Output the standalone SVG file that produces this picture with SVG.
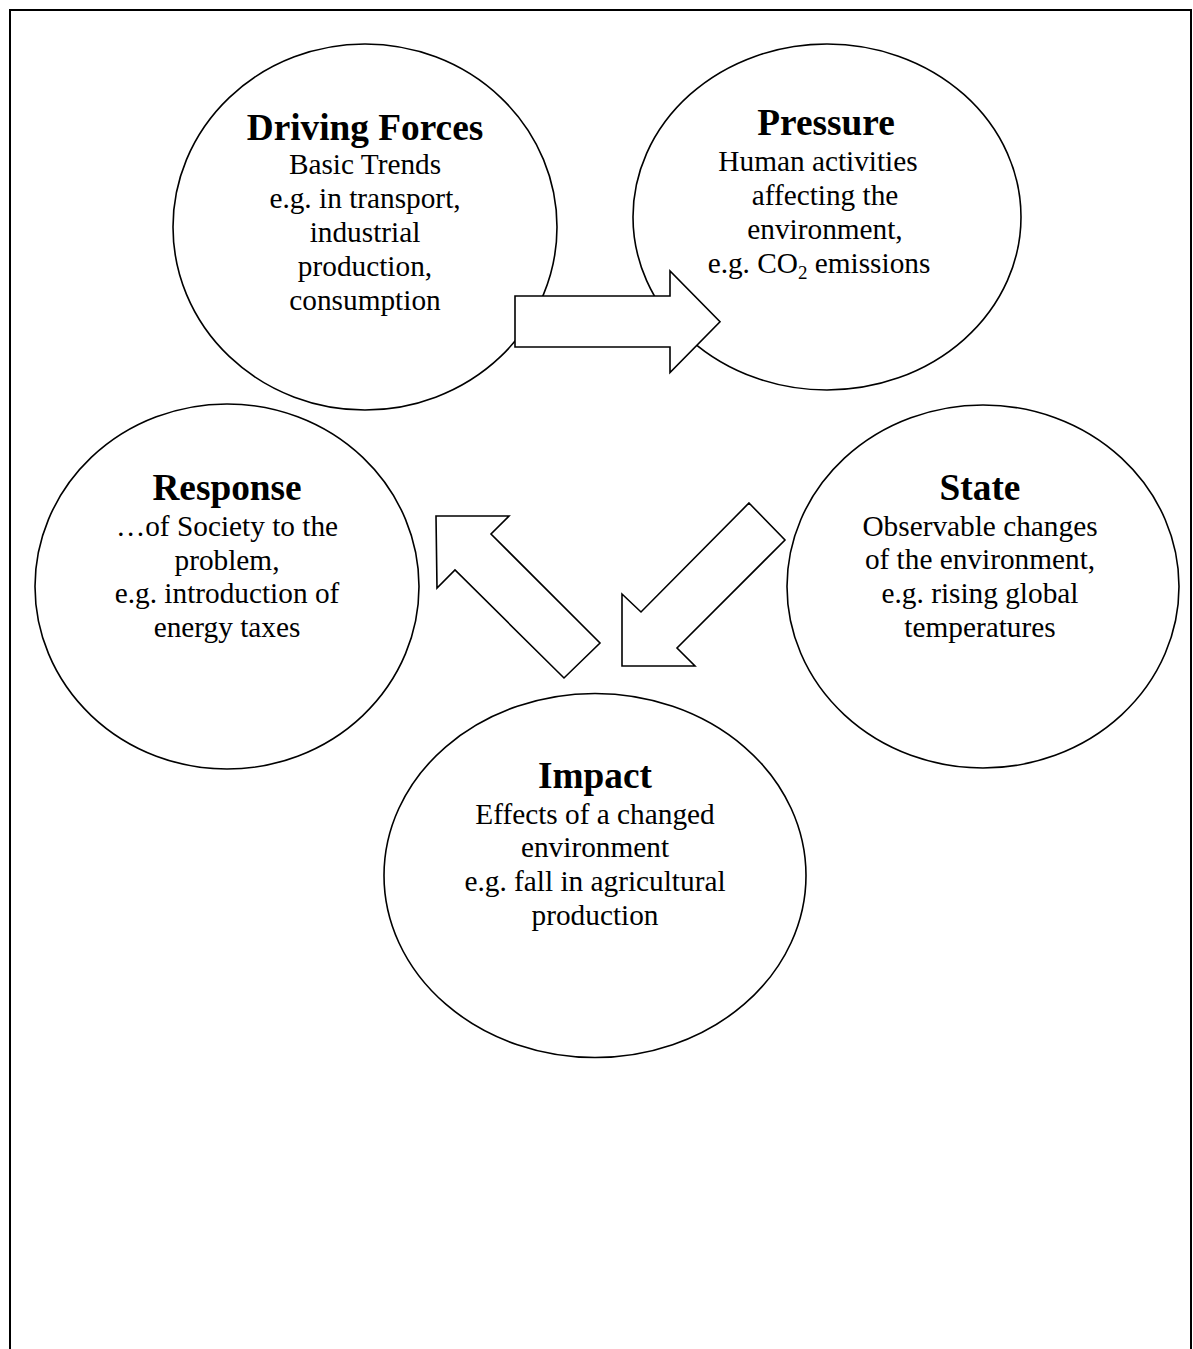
<svg xmlns="http://www.w3.org/2000/svg" width="1193" height="1349" viewBox="0 0 1193 1349">
<style>
.node ellipse{fill:#fff;stroke:#000;stroke-width:1.6}
.arrow{fill:#fff;stroke:#000;stroke-width:1.6;stroke-linejoin:miter}
text{font-family:"Liberation Serif","Times New Roman",serif;fill:#000;text-anchor:middle}
.t{font-size:37.3px;font-weight:bold}
.b{font-size:29.3px}
</style>
<rect width="1193" height="1349" fill="#fff"/>
<path d="M10,1349 V10 H1191 V1349" fill="none" stroke="#000" stroke-width="2"/>
<g id="node-driving-forces" class="node">
<ellipse cx="365" cy="227" rx="192" ry="183"/>
<text class="t" x="365" y="140">Driving Forces</text>
<text class="b" x="365" y="174">Basic Trends</text>
<text class="b" x="365" y="208">e.g. in transport,</text>
<text class="b" x="365" y="242">industrial</text>
<text class="b" x="365" y="276">production,</text>
<text class="b" x="365" y="310">consumption</text>
</g>
<g id="node-pressure" class="node">
<ellipse cx="827" cy="217" rx="194" ry="173"/>
<text class="t" x="826" y="135">Pressure</text>
<text class="b" x="818" y="171">Human activities</text>
<text class="b" x="825" y="205">affecting the</text>
<text class="b" x="825" y="239">environment,</text>
<text class="b" x="819" y="273">e.g. CO<tspan font-size="19" dy="6">2</tspan><tspan dy="-6"> emissions</tspan></text>
</g>
<g id="node-response" class="node">
<ellipse cx="227" cy="586.5" rx="192" ry="182.5"/>
<text class="t" x="227" y="500">Response</text>
<text class="b" x="227" y="536">…of Society to the</text>
<text class="b" x="227" y="570">problem,</text>
<text class="b" x="227" y="603">e.g. introduction of</text>
<text class="b" x="227" y="637">energy taxes</text>
</g>
<g id="node-state" class="node">
<ellipse cx="983" cy="586.5" rx="196" ry="181.5"/>
<text class="t" x="980" y="500">State</text>
<text class="b" x="980" y="536">Observable changes</text>
<text class="b" x="980" y="569">of the environment,</text>
<text class="b" x="980" y="603">e.g. rising global</text>
<text class="b" x="980" y="637">temperatures</text>
</g>
<g id="node-impact" class="node">
<ellipse cx="595" cy="875.5" rx="211" ry="182"/>
<text class="t" x="595" y="788">Impact</text>
<text class="b" x="595" y="824">Effects of a changed</text>
<text class="b" x="595" y="857">environment</text>
<text class="b" x="595" y="891">e.g. fall in agricultural</text>
<text class="b" x="595" y="925">production</text>
</g>
<g id="connectors">
<polygon class="arrow" points="515,296 670,296 670,271 720,321.7 670,372.5 670,347 515,347"/>
<polygon class="arrow" points="749,503 785,540 677,648 695,666 622,666 622,594 641,612"/>
<polygon class="arrow" points="436,516 509,516 491,534 600,643 564,678 455,570 437,588"/>
</g>
</svg>
